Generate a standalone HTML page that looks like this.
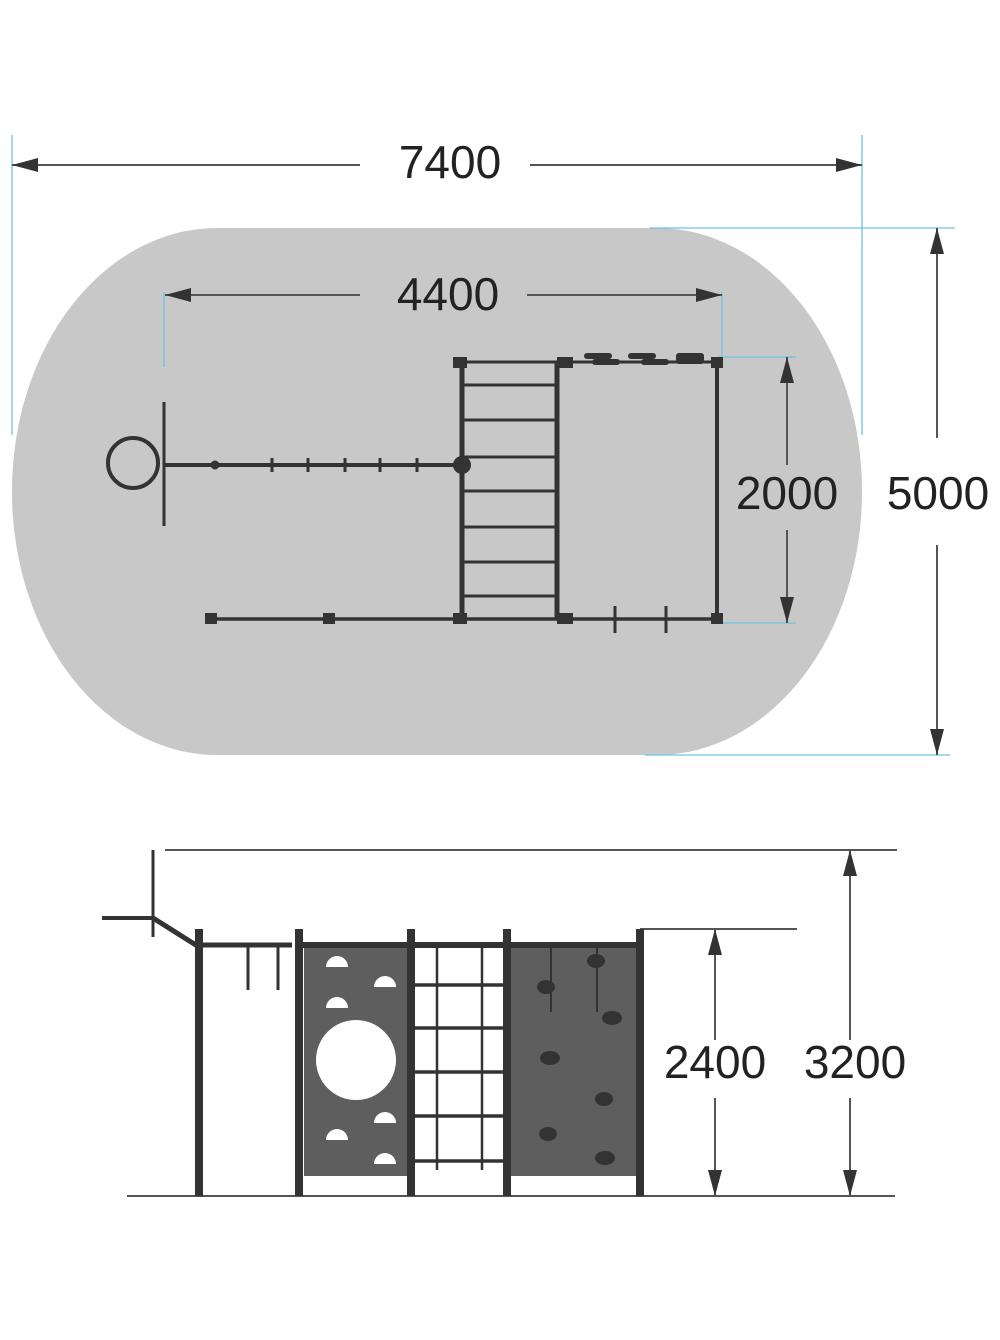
<!DOCTYPE html>
<html><head><style>html,body{margin:0;padding:0;background:#fff}svg{display:block}</style></head>
<body>
<svg width="1000" height="1340" viewBox="0 0 1000 1340" xmlns="http://www.w3.org/2000/svg" font-family="Liberation Sans, sans-serif">
<defs>
<marker id="a" viewBox="0 0 26 14" refX="26" refY="7" markerWidth="26" markerHeight="14" markerUnits="userSpaceOnUse" orient="auto-start-reverse"><path d="M0,0 L26,7 L0,14 Z" fill="#333"/></marker>
</defs>
<!-- ground area -->
<rect x="12" y="228" width="850" height="527" rx="205" ry="263" fill="#c8c8c8"/>
<!-- blue extension lines -->
<g stroke="#6cc3e0" stroke-width="1.3">
<line x1="12" y1="135" x2="12" y2="435"/><line x1="862" y1="135" x2="862" y2="435"/>
<line x1="164" y1="292" x2="164" y2="367"/><line x1="722" y1="292" x2="722" y2="360"/>
<line x1="718" y1="357" x2="796" y2="357"/><line x1="718" y1="623" x2="796" y2="623"/>
<line x1="650" y1="228" x2="955" y2="228"/><line x1="645" y1="755" x2="950" y2="755"/>
</g>
<!-- dimension lines top -->
<g stroke="#555" stroke-width="2" fill="none">
<line x1="12" y1="165" x2="360" y2="165" marker-start="url(#a)"/>
<line x1="530" y1="165" x2="862" y2="165" marker-end="url(#a)"/>
<line x1="165" y1="295" x2="360" y2="295" marker-start="url(#a)"/>
<line x1="527" y1="295" x2="722" y2="295" marker-end="url(#a)"/>
<line x1="787" y1="357" x2="787" y2="465" marker-start="url(#a)"/>
<line x1="787" y1="530" x2="787" y2="623" marker-end="url(#a)"/>
<line x1="937" y1="228" x2="937" y2="438" marker-start="url(#a)"/>
<line x1="937" y1="545" x2="937" y2="755" marker-end="url(#a)"/>
</g>
<g font-size="46" fill="#222" text-anchor="middle">
<text x="450" y="178">7400</text>
<text x="448" y="310">4400</text>
<text x="787" y="509">2000</text>
<text x="938" y="509">5000</text>
</g>
<!-- top structure -->
<g stroke="#333" fill="none">
<line x1="462" y1="362" x2="462" y2="618" stroke-width="5"/>
<line x1="557" y1="362" x2="557" y2="618" stroke-width="5"/>
<line x1="717" y1="362" x2="717" y2="618" stroke-width="4"/>
<line x1="462" y1="362" x2="717" y2="362" stroke-width="3"/>
<line x1="210" y1="619" x2="717" y2="619" stroke-width="3.5"/>
<g stroke-width="3"><line x1="462" y1="385" x2="557" y2="385"/><line x1="462" y1="420" x2="557" y2="420"/><line x1="462" y1="457" x2="557" y2="457"/><line x1="462" y1="491" x2="557" y2="491"/><line x1="462" y1="527" x2="557" y2="527"/><line x1="462" y1="562" x2="557" y2="562"/><line x1="462" y1="596" x2="557" y2="596"/></g>
<circle cx="133" cy="463" r="25" stroke-width="4"/>
<line x1="164" y1="402" x2="164" y2="526" stroke-width="3"/>
<line x1="164" y1="465" x2="462" y2="465" stroke-width="4"/>
<g stroke-width="3"><line x1="272" y1="458" x2="272" y2="472"/><line x1="308" y1="458" x2="308" y2="472"/><line x1="345" y1="458" x2="345" y2="472"/><line x1="380" y1="458" x2="380" y2="472"/><line x1="417" y1="458" x2="417" y2="472"/>
<line x1="615" y1="606" x2="615" y2="633"/><line x1="666" y1="606" x2="666" y2="633"/></g>
</g>
<g fill="#333">
<circle cx="215" cy="465" r="4.5"/><circle cx="462" cy="465" r="9"/>
<rect x="453" y="357" width="14" height="11"/><rect x="557" y="357" width="16" height="11"/><rect x="711" y="357" width="12" height="11"/>
<rect x="453" y="613" width="14" height="11"/><rect x="557" y="613" width="16" height="11"/><rect x="711" y="613" width="12" height="11"/>
<rect x="205" y="613" width="12" height="11"/><rect x="323" y="613" width="12" height="11"/>
<rect x="584" y="353" width="28" height="6" rx="3"/><rect x="592" y="359" width="28" height="6" rx="3"/>
<rect x="628" y="353" width="28" height="6" rx="3"/><rect x="641" y="359" width="28" height="6" rx="3"/>
<rect x="676" y="353" width="28" height="11" rx="3"/>
</g>
<!-- bottom elevation -->
<g stroke="#555" stroke-width="2" fill="none">
<line x1="165" y1="850" x2="897" y2="850"/>
<line x1="640" y1="929" x2="797" y2="929"/>
<line x1="127" y1="1196" x2="895" y2="1196"/>
<line x1="715" y1="929" x2="715" y2="1040" marker-start="url(#a)"/>
<line x1="715" y1="1098" x2="715" y2="1196" marker-end="url(#a)"/>
<line x1="850" y1="850" x2="850" y2="1040" marker-start="url(#a)"/>
<line x1="850" y1="1098" x2="850" y2="1196" marker-end="url(#a)"/>
</g>
<g font-size="46" fill="#222" text-anchor="middle">
<text x="715" y="1078">2400</text>
<text x="855" y="1078">3200</text>
</g>
<rect x="304" y="946" width="104" height="230" fill="#5e5e5e"/>
<rect x="510" y="946" width="128" height="230" fill="#5e5e5e"/>
<g fill="#fff">
<circle cx="356" cy="1060" r="40"/>
<path d="M326,967 a11,11 0 0 1 22,0 z"/><path d="M374,987 a11,11 0 0 1 22,0 z"/><path d="M326,1008 a11,11 0 0 1 22,0 z"/>
<path d="M374,1123 a11,11 0 0 1 22,0 z"/><path d="M326,1140 a11,11 0 0 1 22,0 z"/><path d="M374,1164 a11,11 0 0 1 22,0 z"/>
</g>
<g fill="#333">
<ellipse cx="546" cy="987" rx="9" ry="7"/><ellipse cx="596" cy="961" rx="9" ry="7"/><ellipse cx="612" cy="1018" rx="10" ry="7"/>
<ellipse cx="550" cy="1058" rx="10" ry="7"/><ellipse cx="604" cy="1099" rx="9" ry="7"/><ellipse cx="548" cy="1134" rx="9" ry="7"/><ellipse cx="605" cy="1158" rx="10" ry="7"/>
</g>
<g stroke="#333" fill="none">
<line x1="551" y1="946" x2="551" y2="1012" stroke-width="2"/><line x1="597" y1="946" x2="597" y2="1012" stroke-width="2"/>
<g stroke-width="8"><line x1="199" y1="929" x2="199" y2="1196"/><line x1="299" y1="929" x2="299" y2="1196"/><line x1="411" y1="929" x2="411" y2="1196"/><line x1="507" y1="929" x2="507" y2="1196"/><line x1="640" y1="929" x2="640" y2="1196"/></g>
<line x1="199" y1="945" x2="292" y2="945" stroke-width="5"/>
<line x1="299" y1="945" x2="640" y2="945" stroke-width="6"/>
<line x1="248" y1="945" x2="248" y2="990" stroke-width="3"/><line x1="278" y1="945" x2="278" y2="990" stroke-width="3"/>
<line x1="153" y1="850" x2="153" y2="937" stroke-width="3"/>
<line x1="102" y1="918" x2="153" y2="918" stroke-width="4"/>
<line x1="153" y1="918" x2="199" y2="947" stroke-width="5"/>
<line x1="437" y1="945" x2="437" y2="1170" stroke-width="2.5"/><line x1="482" y1="945" x2="482" y2="1170" stroke-width="2.5"/>
<g stroke-width="3.5"><line x1="411" y1="985" x2="507" y2="985"/><line x1="411" y1="1028" x2="507" y2="1028"/><line x1="411" y1="1072" x2="507" y2="1072"/><line x1="411" y1="1116" x2="507" y2="1116"/><line x1="411" y1="1161" x2="507" y2="1161"/></g>
</g>
</svg>
</body></html>
